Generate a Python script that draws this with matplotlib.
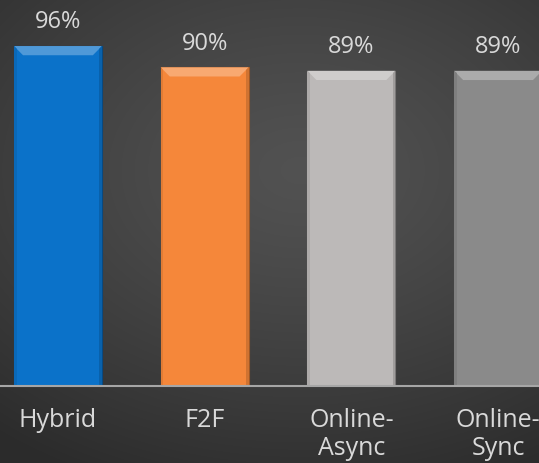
import numpy as np
import matplotlib.pyplot as plt
from matplotlib.patches import Polygon
from matplotlib.colors import to_rgb

categories = ["Hybrid", "F2F", "Online-\nAsync", "Online-\nSync"]
values = [96, 90, 89, 89]
bar_colors = ["#0b72c9", "#f5873a", "#bcb9b8", "#8a8a8a"]


def shade(c, f):
	r, g, b = to_rgb(c)
	if f > 0:
		return (r + (1 - r) * f, g + (1 - g) * f, b + (1 - b) * f)
	return (r * (1 + f), g * (1 + f), b * (1 + f))


fig = plt.figure(figsize=(5.39, 4.63), dpi=100)

# radial gradient background
bg = fig.add_axes([0, 0, 1, 1], zorder=0)
yy, xx = np.mgrid[0:463, 0:539]
d = np.sqrt(((xx - 300) / 480.0) ** 2 + ((yy - 170) / 340.0) ** 2)
d = np.clip(d, 0, 1)
lum = 0.32 - 0.15 * d ** 1.3
img = np.dstack([lum, lum, lum])
bg.imshow(img, aspect="auto", extent=[0, 1, 0, 1], origin="upper")
bg.set_axis_off()

ax = fig.add_axes([0, 0.1663, 1, 0.8337], zorder=1)
ax.patch.set_alpha(0)
x = np.arange(len(categories))
width = 0.6
bars = ax.bar(x, values, width=width, color=bar_colors, edgecolor=[shade(c, -0.35) for c in bar_colors],
			  linewidth=0.8, zorder=2)
ax.set_xlim(-0.395, 3.279)
ax.set_ylim(0, 109)

# bevel on top and thin side edges
bx, by = 0.062, 2.6
ex = 0.018
for b, c in zip(bars, bar_colors):
	x0, x1 = b.get_x(), b.get_x() + b.get_width()
	top = b.get_height()
	ax.add_patch(Polygon([[x0, top], [x1, top], [x1 - bx, top - by], [x0 + bx, top - by]],
						 closed=True, facecolor=shade(c, 0.28), edgecolor="none", zorder=3))
	ax.add_patch(Polygon([[x1, top], [x1, 0], [x1 - ex, 0], [x1 - ex, top - by * ex / bx]],
						 closed=True, facecolor=shade(c, -0.15), edgecolor="none", zorder=3))
	ax.add_patch(Polygon([[x0, top], [x0, 0], [x0 + ex, 0], [x0 + ex, top - by * ex / bx]],
						 closed=True, facecolor=shade(c, -0.08), edgecolor="none", zorder=3))
	ax.text(b.get_x() + b.get_width() / 2, top + 3.3, "{}%".format(int(top)), ha="center", va="bottom",
			fontsize=17, color="#d9d9d9", family="Open Sans")

for s in ["top", "right", "left"]:
	ax.spines[s].set_visible(False)
ax.spines["bottom"].set_color("#a6a6a6")
ax.spines["bottom"].set_linewidth(1.5)
ax.spines["bottom"].set_zorder(4)
ax.set_yticks([])
ax.set_xticks(x)
ax.set_xticklabels(categories, fontsize=18, color="#d9d9d9", family="Open Sans", linespacing=1.15)
ax.tick_params(axis="x", length=0, pad=16)

fig.savefig("out.png", dpi=100)
